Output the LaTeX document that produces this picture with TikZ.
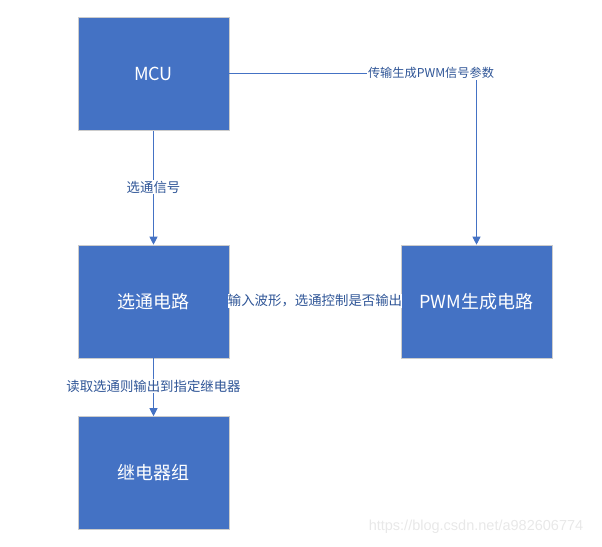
\documentclass[tikz,border=0pt]{standalone}
\usepackage{fontspec}
\setmainfont{Noto Sans CJK SC}
\newfontfamily\wmfont{Liberation Sans}
\usetikzlibrary{arrows.meta,positioning}
\definecolor{boxblue}{HTML}{4472C4}
\definecolor{labblue}{HTML}{2F5597}
\tikzset{
  blockbox/.style={draw=black!20, line width=0.6pt, fill=boxblue, minimum width=151pt, minimum height=113pt, text=white, font=\fontsize{18}{21}\selectfont, inner sep=0pt},
  conn/.style={draw=boxblue, line width=1pt, -{Triangle[width=8pt,length=8pt]}},
  lab/.style={fill=white, text=labblue, font=\fontsize{13.4}{15}\selectfont, inner sep=1pt}
}
\begin{document}
\begin{tikzpicture}[x=1pt,y=-1pt]
\useasboundingbox (0,0) rectangle (602,546);
\node[blockbox] (mcu) at (153.5,74) {MCU};
\node[blockbox] (sel) at (153.5,301.5) {选通电路};
\node[blockbox] (pwm) at (476.5,301.5) {PWM生成电路};
\node[blockbox] (rel) at (153.5,473) {继电器组};
\coordinate (corner) at (476.5,73);
\draw[conn] (mcu.east |- corner) -- (corner) -- (pwm.north);
\node[lab, font=\fontsize{12.2}{14}\selectfont] (l1) at (431,73) {传输生成PWM信号参数};
\draw[conn] (mcu.south) -- (sel.north);
\node[lab] (l2) at (153.5,187) {选通信号};
\draw[conn] (pwm.west) -- (sel.east);
\node[lab, inner xsep=0pt, minimum width=172pt] (l3) at (315,301) {输入波形，选通控制是否输出};
\draw[conn] (sel.south) -- (rel.north);
\node[lab] (l4) at (153.5,386) {读取选通则输出到指定继电器};
\node[text=black!9, font=\wmfont\fontsize{14.5}{16}\selectfont, inner sep=0pt] (wm) at (476,527) {https://blog.csdn.net/a982606774};
\end{tikzpicture}
\end{document}
